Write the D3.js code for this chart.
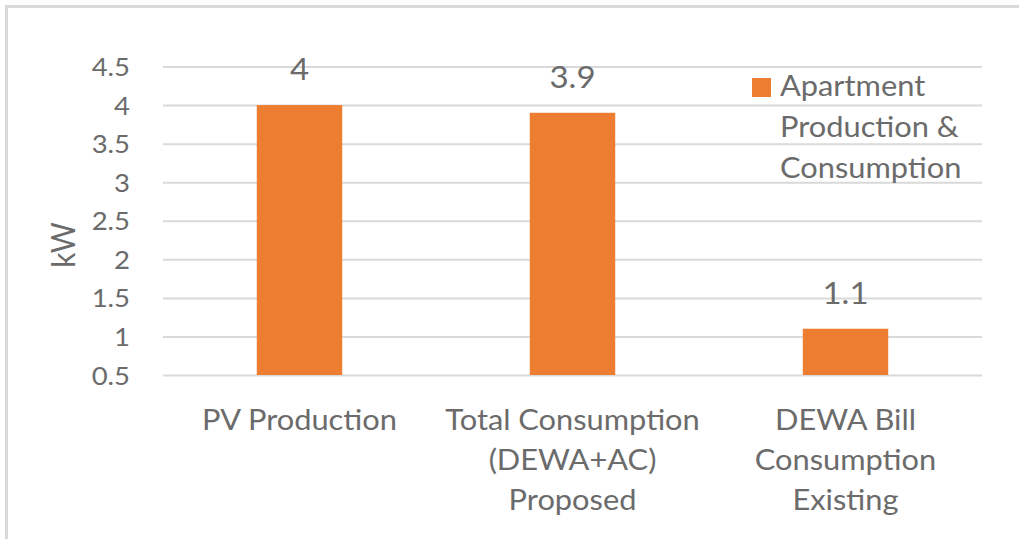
<!DOCTYPE html>
<html lang="en">
<head>
    <meta charset="UTF-8">
    <title>Apartment Production & Consumption</title>
    <style>
        body { margin: 0; background: #fff; }
        svg text { font-family: Lato, "Open Sans", sans-serif; fill: #6b6b6b; }
    </style>
</head>
<body>
    <div id="my_dataviz"></div>

    <script src="https://d3js.org/d3.v7.min.js"></script>
    <script>
        // data
        var categories = ["PV Production", "Total Consumption\n(DEWA+AC)\nProposed", "DEWA Bill\nConsumption\nExisting"];
        var values = [4, 3.9, 1.1];
        var yTicks = [0.5, 1, 1.5, 2, 2.5, 3, 3.5, 4, 4.5];
        var seriesName = ["Apartment", "Production &", "Consumption"];
        var yTitle = "kW";

        var W = 1019, H = 539;
        var sx = 1.1; // the source picture is stretched sideways a bit

        var svg = d3.select("#my_dataviz")
            .append("svg")
            .attr("width", W)
            .attr("height", H);

        // chart frame
        svg.append("rect")
            .attr("x", 6.5).attr("y", 6.5)
            .attr("width", W + 20).attr("height", H + 20)
            .attr("fill", "none")
            .attr("stroke", "#d9d9d9")
            .attr("stroke-width", 3);

        var plot = { left: 163, right: 982, top: 66.5, bottom: 375 };

        var x = d3.scaleBand()
            .domain(categories)
            .range([plot.left, plot.right])
            .paddingInner(0.687)
            .paddingOuter(0.3435);

        var y = d3.scaleLinear()
            .domain([0.5, 4.5])
            .range([plot.bottom, plot.top]);

        // y axis + gridlines
        var yAxis = svg.append("g")
            .attr("transform", "translate(" + plot.left + ",0)")
            .call(d3.axisLeft(y).tickValues(yTicks).tickSize(-(plot.right - plot.left)).tickFormat(d3.format("")));
        yAxis.select(".domain").remove();
        yAxis.selectAll(".tick line")
            .attr("stroke", "#d9d9d9")
            .attr("stroke-width", 2);
        yAxis.selectAll(".tick text")
            .attr("x", 0).attr("dy", null)
            .attr("font-size", 25)
            .attr("font-family", null)
            .attr("fill", null)
            .attr("text-anchor", "end")
            .attr("transform", "translate(-33,9) scale(" + sx + ",1)");

        // bars
        svg.append("g").selectAll("rect")
            .data(values)
            .enter()
            .append("rect")
            .attr("x", function (d, i) { return x(categories[i]); })
            .attr("y", function (d) { return y(d); })
            .attr("width", x.bandwidth())
            .attr("height", function (d) { return y(0.5) - y(d); })
            .attr("fill", "#ed7d31");

        // data labels
        svg.append("g").selectAll("text")
            .data(values)
            .enter()
            .append("text")
            .attr("text-anchor", "middle")
            .attr("font-size", 30)
            .attr("transform", function (d, i) {
                return "translate(" + (x(categories[i]) + x.bandwidth() / 2) + "," + (y(d) - 25) + ") scale(" + sx + ",1)";
            })
            .text(function (d) { return d; });

        // category labels
        var xAxis = svg.append("g")
            .attr("transform", "translate(0," + plot.bottom + ")")
            .call(d3.axisBottom(x).tickSize(0));
        xAxis.select(".domain").remove();
        xAxis.selectAll(".tick text").each(function (d) {
            var t = d3.select(this)
                .attr("y", null).attr("dy", null)
                .attr("font-size", 28)
                .attr("font-family", null)
                .attr("fill", null)
                .attr("transform", "translate(0,55) scale(" + sx + ",1)")
                .text(null);
            d.split("\n").forEach(function (line, k) {
                t.append("tspan").attr("x", 0).attr("y", k * 40).text(line);
            });
        });

        // y title
        svg.append("text")
            .attr("text-anchor", "middle")
            .attr("font-size", 30)
            .attr("transform", "translate(75,245) scale(" + sx + ",1) rotate(-90)")
            .text(yTitle);

        // legend
        var legend = svg.append("g");
        legend.append("rect")
            .attr("x", 752).attr("y", 78)
            .attr("width", 19).attr("height", 19)
            .attr("fill", "#ed7d31");
        legend.selectAll("text")
            .data(seriesName)
            .enter()
            .append("text")
            .attr("font-size", 28)
            .attr("transform", function (d, i) {
                return "translate(780," + (96 + i * 41) + ") scale(" + sx + ",1)";
            })
            .text(function (d) { return d; });
    </script>
</body>
</html>
